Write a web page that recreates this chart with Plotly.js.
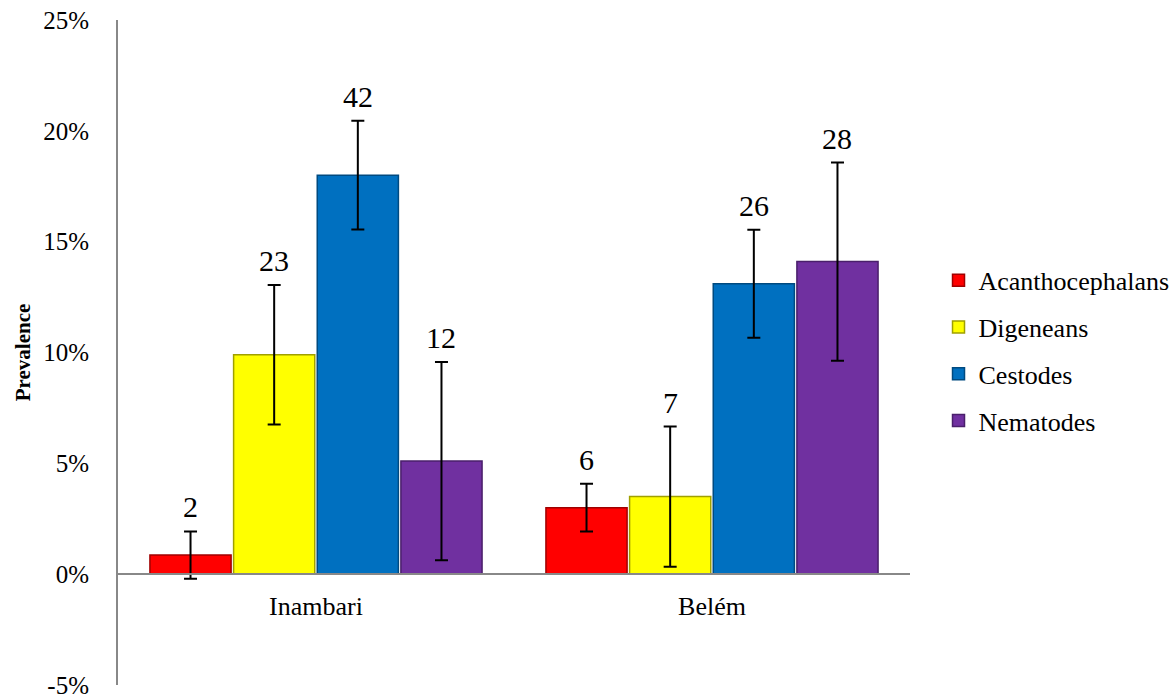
<!DOCTYPE html>
<html>
<head>
<meta charset="utf-8">
<script src="https://cdn.plot.ly/plotly-3.0.1.min.js"></script>
<style>html,body{margin:0;padding:0;background:#fff;}#chart{width:1173px;height:700px;}</style>
</head>
<body>
<div id="chart"></div>
<script>
const sites = ["Inambari", "Belém"];
const groups = ["Acanthocephalans", "Digeneans", "Cestodes", "Nematodes"];
const colors = ["#FF0000", "#FFFF00", "#0070C0", "#7030A0"];
const edgeColors = ["#A00000", "#A0A000", "#004A80", "#4A1F6B"];
// prevalence (%) per group, [Inambari, Belém]
const acanthocephalans = [0.86, 3.0];
const digeneans = [9.9, 3.5];
const cestodes = [18.0, 13.1];
const nematodes = [5.1, 14.1];
// error bar half-widths (%)
const errAcanth = [1.07, 1.08];
const errDigen = [3.15, 3.16];
const errCest = [2.45, 2.44];
const errNemat = [4.47, 4.47];
// counts shown above bars
const nAcanth = [2, 6];
const nDigen = [23, 7];
const nCest = [42, 26];
const nNemat = [12, 28];

const values = [acanthocephalans, digeneans, cestodes, nematodes];
const errors = [errAcanth, errDigen, errCest, errNemat];
const counts = [nAcanth, nDigen, nCest, nNemat];

const FONT = 'Liberation Serif, Times New Roman, Times, serif';
const bargap = 0.155;

const traces = groups.map((g, k) => ({
  type: 'bar',
  name: g,
  legendgroup: g,
  x: sites,
  y: values[k],
  marker: {color: colors[k], line: {color: edgeColors[k], width: 1.5}},
  error_y: {type: 'data', array: errors[k], visible: true, color: '#000', thickness: 2, width: 6.5},
  hoverinfo: 'x+y+name'
}));

const annotations = [];
const slot = (1 - bargap) / groups.length;
groups.forEach((g, k) => {
  sites.forEach((s, i) => {
    annotations.push({
      xref: 'x', yref: 'y',
      x: i - (1 - bargap) / 2 + slot * (k + 0.5),
      y: values[k][i] + errors[k][i],
      yanchor: 'bottom', xanchor: 'center',
      yshift: 6,
      showarrow: false,
      text: String(counts[k][i]),
      font: {family: FONT, size: 30, color: '#000'}
    });
  });
});

const layout = {
  width: 1173, height: 700,
  margin: {l: 118, r: 263, t: 20, b: 15, autoexpand: false},
  paper_bgcolor: '#fff', plot_bgcolor: '#fff',
  barmode: 'group', bargap: bargap, bargroupgap: 0.03,
  font: {family: FONT, size: 26, color: '#000'},
  showlegend: true,
  legend: {
    x: 1.036, xanchor: 'left', y: 0.644, yanchor: 'top',
    traceorder: 'grouped', tracegroupgap: 10,
    font: {family: FONT, size: 26, color: '#000'},
    itemwidth: 30
  },
  xaxis: {
    type: 'category',
    anchor: 'free', position: 0.1669,
    showline: true, linecolor: '#888', linewidth: 2,
    ticks: '', showgrid: false, zeroline: false,
    tickfont: {family: FONT, size: 26, color: '#000'},
    ticklabelstandoff: 9,
    range: [-0.5, 1.5]
  },
  yaxis: {
    range: [-5, 25],
    tickvals: [-5, 0, 5, 10, 15, 20, 25],
    ticktext: ["-5%", "0%", "5%", "10%", "15%", "20%", "25%"],
    showline: true, linecolor: '#888', linewidth: 2,
    showgrid: false, zeroline: false, ticks: '',
    ticklabelstandoff: 22,
    ticklabeloverflow: 'allow',
    tickfont: {family: FONT, size: 25, color: '#000'},
    title: {text: '<b>Prevalence</b>', font: {family: FONT, size: 21, color: '#000'}, standoff: 7}
  },
  annotations: annotations
};

Plotly.newPlot('chart', traces, layout, {displayModeBar: false, staticPlot: true});
</script>
</body>
</html>
